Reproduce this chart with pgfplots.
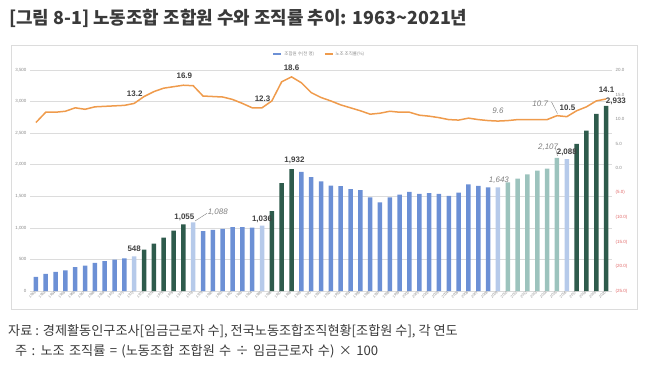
\documentclass[border=0pt]{standalone}
\usepackage{fontspec}
\setmainfont{Noto Sans CJK KR}
\newfontfamily\numfont{Liberation Sans}
\usepackage{pgfplots}
\pgfplotsset{compat=1.18}
\definecolor{barB}{HTML}{6C90D5}
\definecolor{barL}{HTML}{B6CAEA}
\definecolor{barD}{HTML}{2E5B4C}
\definecolor{barT}{HTML}{9CC3BD}
\definecolor{lineO}{HTML}{EF9B4C}
\definecolor{gridg}{HTML}{DCDCDC}
\definecolor{tickg}{HTML}{8A8A8A}
\definecolor{negred}{HTML}{E06666}
\definecolor{lblg}{HTML}{404040}
\definecolor{itg}{HTML}{808080}
\definecolor{titleg}{HTML}{3A3A3A}
\begin{document}
\begin{tikzpicture}[x=1bp,y=1bp]
\useasboundingbox (0,0) rectangle (650,377);
\draw[gridg, line width=0.8bp] (11,68) rectangle (637,332);
\node[anchor=west, inner sep=0, text=titleg, font=\bfseries\fontsize{18}{20}\selectfont] at (9,359) {[그림 8-1] 노동조합 조합원 수와 조직률 추이: 1963\textasciitilde 2021년};
\node[anchor=west, inner sep=0, text=titleg, font=\fontsize{13.2}{15}\selectfont] at (8,45.3) {자료 : 경제활동인구조사[임금근로자 수], 전국노동조합조직현황[조합원 수], 각 연도};
\node[anchor=west, inner sep=0, text=titleg, font=\fontsize{13.2}{15}\selectfont, execute at begin node={\spaceskip=0.33em plus 0.1em}] at (15,25.5) {주 : 노조 조직률 = (노동조합 조합원 수 ÷ 임금근로자 수) × 100};

\begin{axis}[at={(30bp,86bp)}, anchor=south west, scale only axis,
  width=582bp, height=221bp,
  xmin=1962.4, xmax=2021.6, ymin=0, ymax=3500,
  axis line style={draw=none}, tick style={draw=none},
  ymajorgrids, grid style={gridg, line width=0.5bp},
  ytick={0,500,...,3500},
  yticklabels={0,500,{1,000},{1,500},{2,000},{2,500},{3,000},{3,500}},
  yticklabel style={font=\numfont\fontsize{4.5}{5}\selectfont, text=tickg},
  xtick={1963,...,2021},
  xticklabel={\pgfmathtruncatemacro\yr{\tick}\yr},
  xticklabel style={font=\numfont\fontsize{3.6}{4}\selectfont, text=tickg, rotate=45, anchor=east, inner sep=1bp},
  clip=false]
\addplot[ybar, bar width=4.5bp, bar shift=0pt, fill=barB, draw=none] coordinates {
(1963,224)(1964,272)(1965,302)(1966,327)(1967,378)(1968,402)(1969,444)(1970,473)(1971,497)(1972,515)
(1980,948)(1981,967)(1982,984)(1983,1010)(1984,1011)(1985,1004)
(1990,1887)(1991,1803)(1992,1735)(1993,1667)(1994,1659)(1995,1615)(1996,1599)(1997,1484)(1998,1402)(1999,1481)
(2000,1527)(2001,1569)(2002,1538)(2003,1550)(2004,1537)(2005,1506)(2006,1559)(2007,1688)(2008,1666)(2009,1640)};
\addplot[ybar, bar width=4.5bp, bar shift=0pt, fill=barL, draw=none] coordinates {
(1973,548)(1979,1088)(1986,1036)(2010,1643)(2017,2088)};
\addplot[ybar, bar width=4.5bp, bar shift=0pt, fill=barD, draw=none] coordinates {
(1974,656)(1975,750)(1976,846)(1977,955)(1978,1055)(1987,1267)(1988,1707)(1989,1932)
(2018,2331)(2019,2540)(2020,2805)(2021,2933)};
\addplot[ybar, bar width=4.5bp, bar shift=0pt, fill=barT, draw=none] coordinates {
(2011,1720)(2012,1781)(2013,1848)(2014,1905)(2015,1938)(2016,2107)};
\begin{scope}[every node/.style={font=\numfont\bfseries\fontsize{8}{9}\selectfont, text=lblg, inner sep=0}]
\node at (axis cs:1973,665) {548};
\node at (axis cs:1978.1,1172) {1,055};
\node at (axis cs:1986,1140) {1,036};
\node at (axis cs:1989.3,2075) {1,932};
\node at (axis cs:2017,2201) {2,088};
\node at (axis cs:2022,2998) {2,933};
\end{scope}
\begin{scope}[every node/.style={font=\numfont\itshape\fontsize{8}{9}\selectfont, text=itg, inner sep=0}]
\node at (axis cs:1981.5,1251) {1,088};
\node at (axis cs:2010.1,1758) {1,643};
\node at (axis cs:2015.1,2273) {2,107};
\end{scope}
\draw[itg, line width=0.4bp] (axis cs:1979.2,1110) -- (axis cs:1980.4,1230);
\draw[itg, line width=0.4bp] (axis cs:2015.85,2262) -- (axis cs:2016.05,2140);
\end{axis}

\begin{axis}[at={(30bp,86bp)}, anchor=south west, scale only axis,
  width=582bp, height=221bp,
  xmin=1962.4, xmax=2021.6, ymin=-25, ymax=20,
  axis y line*=right, hide x axis,
  axis line style={draw=none}, tick style={draw=none},
  ytick={-25,-20,...,20},
  yticklabels={{\color{negred}(25.0)},{\color{negred}(20.0)},{\color{negred}(15.0)},{\color{negred}(10.0)},{\color{negred}(5.0)},0.0,5.0,10.0,15.0,20.0},
  yticklabel style={font=\numfont\fontsize{4.5}{5}\selectfont, text=tickg},
  legend style={at={(0.497,1.072)}, anchor=center, draw=none, fill=none,
    font=\fontsize{4.5}{5}\selectfont, text=tickg, legend columns=2,
    /tikz/every even column/.append style={column sep=8bp}},
  legend image code/.code={\draw[#1] (0bp,0bp) -- (8bp,0bp);},
  clip=false]
\addlegendimage{barB, line width=2.2bp}
\addlegendentry{조합원 수(천 명)}
\addlegendimage{lineO, line width=1.2bp}
\addlegendentry{노조 조직률(\%)}
\addplot[lineO, line width=1.5bp, mark=none] coordinates {
(1963,9.3)(1964,11.4)(1965,11.4)(1966,11.6)(1967,12.3)(1968,12.0)(1969,12.5)(1970,12.6)(1971,12.7)(1972,12.8)
(1973,13.2)(1974,14.6)(1975,15.6)(1976,16.3)(1977,16.6)(1978,16.9)(1979,16.8)(1980,14.7)(1981,14.6)(1982,14.5)
(1983,14.0)(1984,13.2)(1985,12.3)(1986,12.3)(1987,13.7)(1988,17.6)(1989,18.6)(1990,17.4)(1991,15.4)(1992,14.4)
(1993,13.7)(1994,12.9)(1995,12.3)(1996,11.7)(1997,11.0)(1998,11.2)(1999,11.6)(2000,11.4)(2001,11.4)(2002,10.8)
(2003,10.6)(2004,10.3)(2005,9.9)(2006,9.8)(2007,10.2)(2008,9.9)(2009,9.7)(2010,9.6)(2011,9.7)(2012,9.9)
(2013,9.9)(2014,9.9)(2015,9.9)(2016,10.7)(2017,10.5)(2018,11.7)(2019,12.5)(2020,13.7)(2021,14.1)};
\begin{scope}[every node/.style={font=\numfont\bfseries\fontsize{8}{9}\selectfont, text=lblg, inner sep=0}]
\node at (axis cs:1973.05,15.2) {13.2};
\node at (axis cs:1978.1,18.9) {16.9};
\node at (axis cs:1986.05,14.1) {12.3};
\node at (axis cs:1989,20.4) {18.6};
\node at (axis cs:2017.07,12.4) {10.5};
\node at (axis cs:2021.04,15.9) {14.1};
\end{scope}
\begin{scope}[every node/.style={font=\numfont\itshape\fontsize{8}{9}\selectfont, text=itg, inner sep=0}]
\node at (axis cs:2010,11.65) {9.6};
\node at (axis cs:2014.3,13.07) {10.7};
\end{scope}
\draw[itg, line width=0.4bp] (axis cs:2015.45,13.5) -- (axis cs:2016.05,11.1);
\end{axis}
\end{tikzpicture}
\end{document}
